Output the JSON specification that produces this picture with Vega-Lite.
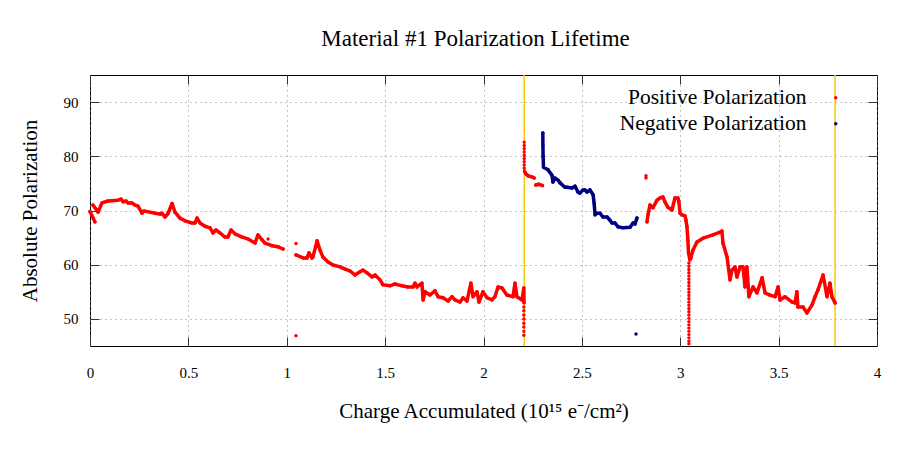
{
  "$schema": "https://vega.github.io/schema/vega-lite/v6.json",
  "width": 787,
  "height": 271,
  "autosize": {"type": "none"},
  "padding": {"left": 90, "top": 75, "right": 23, "bottom": 104},
  "background": "white",
  "title": {
    "text": "Material #1 Polarization Lifetime",
    "font": "Liberation Serif",
    "fontSize": 23,
    "fontWeight": "normal",
    "color": "black",
    "anchor": "middle",
    "baseline": "alphabetic",
    "dx": -8,
    "offset": 5
  },
  "config": {
    "view": {"stroke": "black", "strokeWidth": 1},
    "axis": {
      "labelFont": "Liberation Serif",
      "titleFont": "Liberation Serif",
      "labelColor": "black",
      "titleColor": "black",
      "titleFontWeight": "normal",
      "tickColor": "#333333",
      "gridColor": "#888888",
      "gridDash": [1, 4],
      "gridOpacity": 1,
      "domain": false
    }
  },
  "datasets": {
    "rules": [{"x": 2.207}, {"x": 3.787}],
    "pol": [
      {"x": 0.0, "y": 69.8, "series": "Positive Polarization", "seg": "r0"},
      {"x": 0.008, "y": 69.2, "series": "Positive Polarization", "seg": "r0"},
      {"x": 0.016, "y": 68.6, "series": "Positive Polarization", "seg": "r0"},
      {"x": 0.025, "y": 67.9, "series": "Positive Polarization", "seg": "r0"},
      {"x": 0.015, "y": 71.0, "series": "Positive Polarization", "seg": "r1"},
      {"x": 0.041, "y": 69.7, "series": "Positive Polarization", "seg": "r1"},
      {"x": 0.061, "y": 71.4, "series": "Positive Polarization", "seg": "r1"},
      {"x": 0.091, "y": 71.75, "series": "Positive Polarization", "seg": "r1"},
      {"x": 0.142, "y": 71.9, "series": "Positive Polarization", "seg": "r1"},
      {"x": 0.158, "y": 72.1, "series": "Positive Polarization", "seg": "r1"},
      {"x": 0.168, "y": 71.6, "series": "Positive Polarization", "seg": "r1"},
      {"x": 0.183, "y": 71.75, "series": "Positive Polarization", "seg": "r1"},
      {"x": 0.193, "y": 71.4, "series": "Positive Polarization", "seg": "r1"},
      {"x": 0.213, "y": 71.4, "series": "Positive Polarization", "seg": "r1"},
      {"x": 0.229, "y": 71.0, "series": "Positive Polarization", "seg": "r1"},
      {"x": 0.244, "y": 70.8, "series": "Positive Polarization", "seg": "r1"},
      {"x": 0.264, "y": 69.5, "series": "Positive Polarization", "seg": "r1"},
      {"x": 0.274, "y": 69.9, "series": "Positive Polarization", "seg": "r1"},
      {"x": 0.305, "y": 69.7, "series": "Positive Polarization", "seg": "r1"},
      {"x": 0.33, "y": 69.5, "series": "Positive Polarization", "seg": "r1"},
      {"x": 0.356, "y": 69.35, "series": "Positive Polarization", "seg": "r1"},
      {"x": 0.366, "y": 69.5, "series": "Positive Polarization", "seg": "r1"},
      {"x": 0.381, "y": 68.8, "series": "Positive Polarization", "seg": "r1"},
      {"x": 0.396, "y": 69.4, "series": "Positive Polarization", "seg": "r1"},
      {"x": 0.417, "y": 71.3, "series": "Positive Polarization", "seg": "r1"},
      {"x": 0.432, "y": 69.7, "series": "Positive Polarization", "seg": "r1"},
      {"x": 0.457, "y": 68.6, "series": "Positive Polarization", "seg": "r1"},
      {"x": 0.483, "y": 68.1, "series": "Positive Polarization", "seg": "r1"},
      {"x": 0.518, "y": 67.7, "series": "Positive Polarization", "seg": "r1"},
      {"x": 0.534, "y": 67.7, "series": "Positive Polarization", "seg": "r1"},
      {"x": 0.544, "y": 68.6, "series": "Positive Polarization", "seg": "r1"},
      {"x": 0.559, "y": 67.7, "series": "Positive Polarization", "seg": "r1"},
      {"x": 0.584, "y": 67.1, "series": "Positive Polarization", "seg": "r1"},
      {"x": 0.61, "y": 66.8, "series": "Positive Polarization", "seg": "r1"},
      {"x": 0.625, "y": 65.85, "series": "Positive Polarization", "seg": "r1"},
      {"x": 0.64, "y": 66.4, "series": "Positive Polarization", "seg": "r1"},
      {"x": 0.661, "y": 65.85, "series": "Positive Polarization", "seg": "r1"},
      {"x": 0.686, "y": 65.1, "series": "Positive Polarization", "seg": "r1"},
      {"x": 0.701, "y": 65.1, "series": "Positive Polarization", "seg": "r1"},
      {"x": 0.717, "y": 66.4, "series": "Positive Polarization", "seg": "r1"},
      {"x": 0.737, "y": 65.7, "series": "Positive Polarization", "seg": "r1"},
      {"x": 0.773, "y": 65.1, "series": "Positive Polarization", "seg": "r1"},
      {"x": 0.803, "y": 64.75, "series": "Positive Polarization", "seg": "r1"},
      {"x": 0.839, "y": 64.0, "series": "Positive Polarization", "seg": "r1"},
      {"x": 0.854, "y": 65.5, "series": "Positive Polarization", "seg": "r1"},
      {"x": 0.874, "y": 64.6, "series": "Positive Polarization", "seg": "r1"},
      {"x": 0.889, "y": 64.0, "series": "Positive Polarization", "seg": "r1"},
      {"x": 0.925, "y": 63.5, "series": "Positive Polarization", "seg": "r1"},
      {"x": 0.956, "y": 63.3, "series": "Positive Polarization", "seg": "r1"},
      {"x": 0.981, "y": 62.9, "series": "Positive Polarization", "seg": "r1"},
      {"x": 0.905, "y": 64.75, "series": "Positive Polarization", "seg": null},
      {"x": 1.047, "y": 63.9, "series": "Positive Polarization", "seg": null},
      {"x": 1.047, "y": 46.9, "series": "Positive Polarization", "seg": null},
      {"x": 1.047, "y": 61.8, "series": "Positive Polarization", "seg": "r2"},
      {"x": 1.083, "y": 61.25, "series": "Positive Polarization", "seg": "r2"},
      {"x": 1.103, "y": 61.25, "series": "Positive Polarization", "seg": "r2"},
      {"x": 1.113, "y": 62.2, "series": "Positive Polarization", "seg": "r2"},
      {"x": 1.128, "y": 61.25, "series": "Positive Polarization", "seg": "r2"},
      {"x": 1.133, "y": 61.4, "series": "Positive Polarization", "seg": "r2"},
      {"x": 1.154, "y": 64.4, "series": "Positive Polarization", "seg": "r2"},
      {"x": 1.169, "y": 62.7, "series": "Positive Polarization", "seg": "r2"},
      {"x": 1.184, "y": 61.4, "series": "Positive Polarization", "seg": "r2"},
      {"x": 1.21, "y": 60.5, "series": "Positive Polarization", "seg": "r2"},
      {"x": 1.235, "y": 59.95, "series": "Positive Polarization", "seg": "r2"},
      {"x": 1.271, "y": 59.6, "series": "Positive Polarization", "seg": "r2"},
      {"x": 1.296, "y": 59.2, "series": "Positive Polarization", "seg": "r2"},
      {"x": 1.321, "y": 58.85, "series": "Positive Polarization", "seg": "r2"},
      {"x": 1.347, "y": 58.1, "series": "Positive Polarization", "seg": "r2"},
      {"x": 1.372, "y": 58.7, "series": "Positive Polarization", "seg": "r2"},
      {"x": 1.388, "y": 59.0, "series": "Positive Polarization", "seg": "r2"},
      {"x": 1.408, "y": 58.5, "series": "Positive Polarization", "seg": "r2"},
      {"x": 1.433, "y": 57.75, "series": "Positive Polarization", "seg": "r2"},
      {"x": 1.449, "y": 58.1, "series": "Positive Polarization", "seg": "r2"},
      {"x": 1.474, "y": 57.2, "series": "Positive Polarization", "seg": "r2"},
      {"x": 1.489, "y": 56.3, "series": "Positive Polarization", "seg": "r2"},
      {"x": 1.525, "y": 56.1, "series": "Positive Polarization", "seg": "r2"},
      {"x": 1.55, "y": 56.45, "series": "Positive Polarization", "seg": "r2"},
      {"x": 1.586, "y": 56.1, "series": "Positive Polarization", "seg": "r2"},
      {"x": 1.616, "y": 55.9, "series": "Positive Polarization", "seg": "r2"},
      {"x": 1.642, "y": 55.9, "series": "Positive Polarization", "seg": "r2"},
      {"x": 1.652, "y": 56.6, "series": "Positive Polarization", "seg": "r2"},
      {"x": 1.662, "y": 55.9, "series": "Positive Polarization", "seg": "r2"},
      {"x": 1.687, "y": 56.6, "series": "Positive Polarization", "seg": "r2"},
      {"x": 1.693, "y": 53.5, "series": "Positive Polarization", "seg": "r2"},
      {"x": 1.703, "y": 55.0, "series": "Positive Polarization", "seg": "r2"},
      {"x": 1.728, "y": 54.4, "series": "Positive Polarization", "seg": "r2"},
      {"x": 1.753, "y": 55.2, "series": "Positive Polarization", "seg": "r2"},
      {"x": 1.769, "y": 54.1, "series": "Positive Polarization", "seg": "r2"},
      {"x": 1.794, "y": 53.9, "series": "Positive Polarization", "seg": "r2"},
      {"x": 1.82, "y": 53.3, "series": "Positive Polarization", "seg": "r2"},
      {"x": 1.84, "y": 54.1, "series": "Positive Polarization", "seg": "r2"},
      {"x": 1.855, "y": 53.5, "series": "Positive Polarization", "seg": "r2"},
      {"x": 1.881, "y": 53.1, "series": "Positive Polarization", "seg": "r2"},
      {"x": 1.896, "y": 53.9, "series": "Positive Polarization", "seg": "r2"},
      {"x": 1.916, "y": 53.3, "series": "Positive Polarization", "seg": "r2"},
      {"x": 1.936, "y": 56.6, "series": "Positive Polarization", "seg": "r2"},
      {"x": 1.947, "y": 54.1, "series": "Positive Polarization", "seg": "r2"},
      {"x": 1.967, "y": 55.0, "series": "Positive Polarization", "seg": "r2"},
      {"x": 1.977, "y": 53.1, "series": "Positive Polarization", "seg": "r2"},
      {"x": 1.997, "y": 55.0, "series": "Positive Polarization", "seg": "r2"},
      {"x": 2.018, "y": 53.9, "series": "Positive Polarization", "seg": "r2"},
      {"x": 2.043, "y": 53.5, "series": "Positive Polarization", "seg": "r2"},
      {"x": 2.058, "y": 54.1, "series": "Positive Polarization", "seg": "r2"},
      {"x": 2.074, "y": 55.9, "series": "Positive Polarization", "seg": "r2"},
      {"x": 2.094, "y": 55.7, "series": "Positive Polarization", "seg": "r2"},
      {"x": 2.119, "y": 54.4, "series": "Positive Polarization", "seg": "r2"},
      {"x": 2.15, "y": 54.1, "series": "Positive Polarization", "seg": "r2"},
      {"x": 2.16, "y": 56.6, "series": "Positive Polarization", "seg": "r2"},
      {"x": 2.17, "y": 54.1, "series": "Positive Polarization", "seg": "r2"},
      {"x": 2.196, "y": 53.5, "series": "Positive Polarization", "seg": "r2"},
      {"x": 2.205, "y": 55.7, "series": "Positive Polarization", "seg": "r2"},
      {"x": 2.206, "y": 53.0, "series": "Positive Polarization", "seg": "r2"},
      {"x": 2.205, "y": 52.2, "series": "Positive Polarization", "seg": null},
      {"x": 2.205, "y": 51.5, "series": "Positive Polarization", "seg": null},
      {"x": 2.205, "y": 50.7, "series": "Positive Polarization", "seg": null},
      {"x": 2.205, "y": 50.0, "series": "Positive Polarization", "seg": null},
      {"x": 2.205, "y": 49.2, "series": "Positive Polarization", "seg": null},
      {"x": 2.205, "y": 48.5, "series": "Positive Polarization", "seg": null},
      {"x": 2.205, "y": 47.7, "series": "Positive Polarization", "seg": null},
      {"x": 2.205, "y": 47.0, "series": "Positive Polarization", "seg": null},
      {"x": 2.207, "y": 82.6, "series": "Positive Polarization", "seg": null},
      {"x": 2.207, "y": 82.0, "series": "Positive Polarization", "seg": null},
      {"x": 2.207, "y": 81.4, "series": "Positive Polarization", "seg": null},
      {"x": 2.207, "y": 80.8, "series": "Positive Polarization", "seg": null},
      {"x": 2.207, "y": 80.2, "series": "Positive Polarization", "seg": null},
      {"x": 2.207, "y": 79.6, "series": "Positive Polarization", "seg": null},
      {"x": 2.207, "y": 79.0, "series": "Positive Polarization", "seg": null},
      {"x": 2.207, "y": 78.4, "series": "Positive Polarization", "seg": null},
      {"x": 2.207, "y": 77.8, "series": "Positive Polarization", "seg": null},
      {"x": 2.209, "y": 77.2, "series": "Positive Polarization", "seg": "r3"},
      {"x": 2.215, "y": 76.8, "series": "Positive Polarization", "seg": "r3"},
      {"x": 2.226, "y": 76.4, "series": "Positive Polarization", "seg": "r3"},
      {"x": 2.246, "y": 76.2, "series": "Positive Polarization", "seg": "r3"},
      {"x": 2.258, "y": 76.0, "series": "Positive Polarization", "seg": "r3"},
      {"x": 2.266, "y": 74.7, "series": "Positive Polarization", "seg": "r4"},
      {"x": 2.28, "y": 74.85, "series": "Positive Polarization", "seg": "r4"},
      {"x": 2.3, "y": 74.6, "series": "Positive Polarization", "seg": "r4"},
      {"x": 2.3015, "y": 84.3, "series": "Negative Polarization", "seg": "b1"},
      {"x": 2.302, "y": 82.0, "series": "Negative Polarization", "seg": "b1"},
      {"x": 2.303, "y": 80.0, "series": "Negative Polarization", "seg": "b1"},
      {"x": 2.305, "y": 78.0, "series": "Negative Polarization", "seg": "b1"},
      {"x": 2.328, "y": 77.5, "series": "Negative Polarization", "seg": "b1"},
      {"x": 2.348, "y": 76.5, "series": "Negative Polarization", "seg": "b1"},
      {"x": 2.353, "y": 75.25, "series": "Negative Polarization", "seg": "b1"},
      {"x": 2.363, "y": 76.0, "series": "Negative Polarization", "seg": "b1"},
      {"x": 2.379, "y": 75.6, "series": "Negative Polarization", "seg": "b1"},
      {"x": 2.389, "y": 75.1, "series": "Negative Polarization", "seg": "b1"},
      {"x": 2.414, "y": 74.3, "series": "Negative Polarization", "seg": "b1"},
      {"x": 2.424, "y": 74.3, "series": "Negative Polarization", "seg": "b1"},
      {"x": 2.45, "y": 74.15, "series": "Negative Polarization", "seg": "b1"},
      {"x": 2.465, "y": 74.5, "series": "Negative Polarization", "seg": "b1"},
      {"x": 2.48, "y": 73.4, "series": "Negative Polarization", "seg": "b1"},
      {"x": 2.49, "y": 73.2, "series": "Negative Polarization", "seg": "b1"},
      {"x": 2.506, "y": 73.8, "series": "Negative Polarization", "seg": "b1"},
      {"x": 2.516, "y": 73.8, "series": "Negative Polarization", "seg": "b1"},
      {"x": 2.526, "y": 73.4, "series": "Negative Polarization", "seg": "b1"},
      {"x": 2.541, "y": 73.8, "series": "Negative Polarization", "seg": "b1"},
      {"x": 2.557, "y": 72.9, "series": "Negative Polarization", "seg": "b1"},
      {"x": 2.562, "y": 71.4, "series": "Negative Polarization", "seg": "b1"},
      {"x": 2.567, "y": 69.2, "series": "Negative Polarization", "seg": "b1"},
      {"x": 2.577, "y": 69.5, "series": "Negative Polarization", "seg": "b1"},
      {"x": 2.592, "y": 69.5, "series": "Negative Polarization", "seg": "b1"},
      {"x": 2.607, "y": 68.8, "series": "Negative Polarization", "seg": "b1"},
      {"x": 2.628, "y": 68.8, "series": "Negative Polarization", "seg": "b1"},
      {"x": 2.643, "y": 68.2, "series": "Negative Polarization", "seg": "b1"},
      {"x": 2.653, "y": 67.7, "series": "Negative Polarization", "seg": "b1"},
      {"x": 2.668, "y": 67.7, "series": "Negative Polarization", "seg": "b1"},
      {"x": 2.684, "y": 67.0, "series": "Negative Polarization", "seg": "b1"},
      {"x": 2.709, "y": 66.8, "series": "Negative Polarization", "seg": "b1"},
      {"x": 2.745, "y": 66.9, "series": "Negative Polarization", "seg": "b1"},
      {"x": 2.76, "y": 67.7, "series": "Negative Polarization", "seg": "b1"},
      {"x": 2.77, "y": 67.5, "series": "Negative Polarization", "seg": "b1"},
      {"x": 2.78, "y": 68.6, "series": "Negative Polarization", "seg": "b1"},
      {"x": 2.775, "y": 47.2, "series": "Negative Polarization", "seg": null},
      {"x": 2.826, "y": 76.0, "series": "Positive Polarization", "seg": null},
      {"x": 2.826, "y": 76.4, "series": "Positive Polarization", "seg": null},
      {"x": 2.831, "y": 67.9, "series": "Positive Polarization", "seg": "r5"},
      {"x": 2.836, "y": 69.2, "series": "Positive Polarization", "seg": "r5"},
      {"x": 2.846, "y": 71.0, "series": "Positive Polarization", "seg": "r5"},
      {"x": 2.861, "y": 70.5, "series": "Positive Polarization", "seg": "r5"},
      {"x": 2.882, "y": 71.9, "series": "Positive Polarization", "seg": "r5"},
      {"x": 2.897, "y": 72.3, "series": "Positive Polarization", "seg": "r5"},
      {"x": 2.912, "y": 72.5, "series": "Positive Polarization", "seg": "r5"},
      {"x": 2.922, "y": 71.6, "series": "Positive Polarization", "seg": "r5"},
      {"x": 2.937, "y": 70.6, "series": "Positive Polarization", "seg": "r5"},
      {"x": 2.958, "y": 70.1, "series": "Positive Polarization", "seg": "r5"},
      {"x": 2.973, "y": 72.3, "series": "Positive Polarization", "seg": "r5"},
      {"x": 2.988, "y": 72.3, "series": "Positive Polarization", "seg": "r5"},
      {"x": 2.993, "y": 71.6, "series": "Positive Polarization", "seg": "r5"},
      {"x": 2.999, "y": 69.5, "series": "Positive Polarization", "seg": "r5"},
      {"x": 3.009, "y": 69.2, "series": "Positive Polarization", "seg": "r5"},
      {"x": 3.024, "y": 69.0, "series": "Positive Polarization", "seg": "r5"},
      {"x": 3.029, "y": 68.2, "series": "Positive Polarization", "seg": "r5"},
      {"x": 3.034, "y": 67.0, "series": "Positive Polarization", "seg": "r5"},
      {"x": 3.039, "y": 64.5, "series": "Positive Polarization", "seg": "r5"},
      {"x": 3.042, "y": 62.2, "series": "Positive Polarization", "seg": "r5"},
      {"x": 3.049, "y": 60.9, "series": "Positive Polarization", "seg": "r5"},
      {"x": 3.054, "y": 61.25, "series": "Positive Polarization", "seg": "r5"},
      {"x": 3.065, "y": 62.7, "series": "Positive Polarization", "seg": "r5"},
      {"x": 3.085, "y": 64.2, "series": "Positive Polarization", "seg": "r5"},
      {"x": 3.116, "y": 64.9, "series": "Positive Polarization", "seg": "r5"},
      {"x": 3.166, "y": 65.5, "series": "Positive Polarization", "seg": "r5"},
      {"x": 3.202, "y": 66.0, "series": "Positive Polarization", "seg": "r5"},
      {"x": 3.212, "y": 66.2, "series": "Positive Polarization", "seg": "r5"},
      {"x": 3.217, "y": 64.0, "series": "Positive Polarization", "seg": "r5"},
      {"x": 3.238, "y": 61.4, "series": "Positive Polarization", "seg": "r5"},
      {"x": 3.253, "y": 57.2, "series": "Positive Polarization", "seg": "r5"},
      {"x": 3.263, "y": 59.0, "series": "Positive Polarization", "seg": "r5"},
      {"x": 3.278, "y": 59.6, "series": "Positive Polarization", "seg": "r5"},
      {"x": 3.288, "y": 57.75, "series": "Positive Polarization", "seg": "r5"},
      {"x": 3.304, "y": 59.6, "series": "Positive Polarization", "seg": "r5"},
      {"x": 3.319, "y": 59.6, "series": "Positive Polarization", "seg": "r5"},
      {"x": 3.329, "y": 55.9, "series": "Positive Polarization", "seg": "r5"},
      {"x": 3.339, "y": 59.6, "series": "Positive Polarization", "seg": "r5"},
      {"x": 3.349, "y": 54.1, "series": "Positive Polarization", "seg": "r5"},
      {"x": 3.37, "y": 55.9, "series": "Positive Polarization", "seg": "r5"},
      {"x": 3.39, "y": 54.8, "series": "Positive Polarization", "seg": "r5"},
      {"x": 3.416, "y": 57.6, "series": "Positive Polarization", "seg": "r5"},
      {"x": 3.431, "y": 54.8, "series": "Positive Polarization", "seg": "r5"},
      {"x": 3.456, "y": 54.4, "series": "Positive Polarization", "seg": "r5"},
      {"x": 3.482, "y": 54.1, "series": "Positive Polarization", "seg": "r5"},
      {"x": 3.497, "y": 55.9, "series": "Positive Polarization", "seg": "r5"},
      {"x": 3.507, "y": 53.5, "series": "Positive Polarization", "seg": "r5"},
      {"x": 3.532, "y": 54.1, "series": "Positive Polarization", "seg": "r5"},
      {"x": 3.568, "y": 53.1, "series": "Positive Polarization", "seg": "r5"},
      {"x": 3.583, "y": 52.95, "series": "Positive Polarization", "seg": "r5"},
      {"x": 3.593, "y": 55.0, "series": "Positive Polarization", "seg": "r5"},
      {"x": 3.598, "y": 52.2, "series": "Positive Polarization", "seg": "r5"},
      {"x": 3.624, "y": 52.2, "series": "Positive Polarization", "seg": "r5"},
      {"x": 3.644, "y": 51.1, "series": "Positive Polarization", "seg": "r5"},
      {"x": 3.67, "y": 52.6, "series": "Positive Polarization", "seg": "r5"},
      {"x": 3.685, "y": 54.1, "series": "Positive Polarization", "seg": "r5"},
      {"x": 3.7, "y": 55.35, "series": "Positive Polarization", "seg": "r5"},
      {"x": 3.726, "y": 58.1, "series": "Positive Polarization", "seg": "r5"},
      {"x": 3.746, "y": 54.1, "series": "Positive Polarization", "seg": "r5"},
      {"x": 3.761, "y": 56.6, "series": "Positive Polarization", "seg": "r5"},
      {"x": 3.771, "y": 54.1, "series": "Positive Polarization", "seg": "r5"},
      {"x": 3.787, "y": 52.95, "series": "Positive Polarization", "seg": "r5"},
      {"x": 3.044, "y": 60.3, "series": "Positive Polarization", "seg": null},
      {"x": 3.044, "y": 59.7, "series": "Positive Polarization", "seg": null},
      {"x": 3.044, "y": 59.1, "series": "Positive Polarization", "seg": null},
      {"x": 3.044, "y": 58.5, "series": "Positive Polarization", "seg": null},
      {"x": 3.044, "y": 57.9, "series": "Positive Polarization", "seg": null},
      {"x": 3.044, "y": 57.3, "series": "Positive Polarization", "seg": null},
      {"x": 3.044, "y": 56.7, "series": "Positive Polarization", "seg": null},
      {"x": 3.044, "y": 56.1, "series": "Positive Polarization", "seg": null},
      {"x": 3.044, "y": 55.5, "series": "Positive Polarization", "seg": null},
      {"x": 3.044, "y": 54.9, "series": "Positive Polarization", "seg": null},
      {"x": 3.044, "y": 54.3, "series": "Positive Polarization", "seg": null},
      {"x": 3.044, "y": 53.7, "series": "Positive Polarization", "seg": null},
      {"x": 3.044, "y": 53.1, "series": "Positive Polarization", "seg": null},
      {"x": 3.044, "y": 52.5, "series": "Positive Polarization", "seg": null},
      {"x": 3.044, "y": 51.9, "series": "Positive Polarization", "seg": null},
      {"x": 3.044, "y": 51.3, "series": "Positive Polarization", "seg": null},
      {"x": 3.044, "y": 50.7, "series": "Positive Polarization", "seg": null},
      {"x": 3.044, "y": 50.1, "series": "Positive Polarization", "seg": null},
      {"x": 3.044, "y": 49.5, "series": "Positive Polarization", "seg": null},
      {"x": 3.044, "y": 48.9, "series": "Positive Polarization", "seg": null},
      {"x": 3.044, "y": 48.3, "series": "Positive Polarization", "seg": null},
      {"x": 3.044, "y": 47.7, "series": "Positive Polarization", "seg": null},
      {"x": 3.044, "y": 47.1, "series": "Positive Polarization", "seg": null},
      {"x": 3.044, "y": 46.5, "series": "Positive Polarization", "seg": null},
      {"x": 3.044, "y": 45.9, "series": "Positive Polarization", "seg": null},
      {"x": 3.044, "y": 45.4, "series": "Positive Polarization", "seg": null}
    ]
  },
  "layer": [
    {
      "data": {"name": "rules"},
      "mark": {"type": "rule", "color": "#ffc800", "strokeWidth": 1.5},
      "encoding": {
        "x": {
          "field": "x",
          "type": "quantitative",
          "scale": {"domain": [0, 4], "nice": false, "zero": false},
          "axis": {
            "orient": "bottom",
            "values": [0, 0.5, 1, 1.5, 2, 2.5, 3, 3.5, 4],
            "labelExpr": "format(datum.value, '~g')",
            "labelFlush": false,
            "labelOverlap": false,
            "labelFontSize": 15,
            "labelPadding": 28,
            "tickSize": -9,
            "grid": true,
            "title": "Charge Accumulated (10¹⁵ e⁻/cm²)",
            "titleFontSize": 21,
            "titleX": 393.5,
            "titleY": 65,
            "titleBaseline": "middle"
          }
        }
      }
    },
    {
      "data": {"name": "pol"},
      "transform": [{"filter": "isValid(datum.seg)"}],
      "mark": {"type": "line", "strokeWidth": 3.5, "strokeJoin": "round", "strokeCap": "round"},
      "encoding": {
        "x": {"field": "x", "type": "quantitative", "scale": {"domain": [0, 4], "nice": false, "zero": false}, "axis": null},
        "y": {
          "field": "y",
          "type": "quantitative",
          "scale": {"domain": [45, 95], "nice": false, "zero": false},
          "axis": {
            "orient": "left",
            "values": [50, 60, 70, 80, 90],
            "labelFontSize": 15,
            "labelPadding": 21,
            "tickSize": -9,
            "grid": true,
            "title": "Absolute Polarization",
            "titleFontSize": 21,
            "titleX": -60,
            "titleY": 135.5,
            "titleAlign": "center",
            "titleBaseline": "middle"
          }
        },
        "detail": {"field": "seg", "type": "nominal"},
        "color": {
          "field": "series",
          "type": "nominal",
          "scale": {"domain": ["Positive Polarization", "Negative Polarization"], "range": ["#ff0000", "#000080"]},
          "legend": {
            "orient": "none",
            "legendX": 735,
            "legendY": 12,
            "title": null,
            "labelAlign": "right",
            "labelOffset": -40,
            "labelFontSize": 21.5,
            "labelFont": "Liberation Serif",
            "labelColor": "black",
            "labelLimit": 400,
            "symbolType": "circle",
            "symbolSize": 12,
            "symbolStrokeWidth": 0,
            "rowPadding": 3
          }
        }
      }
    },
    {
      "data": {"name": "pol"},
      "mark": {"type": "point", "filled": true, "size": 12, "opacity": 1},
      "encoding": {
        "x": {"field": "x", "type": "quantitative", "axis": null},
        "y": {"field": "y", "type": "quantitative", "axis": null},
        "color": {"field": "series", "type": "nominal"}
      }
    },
    {
      "data": {"name": "rules"},
      "mark": {"type": "rule", "opacity": 0},
      "encoding": {
        "x": {
          "field": "x",
          "type": "quantitative",
          "axis": {"orient": "top", "values": [0, 0.5, 1, 1.5, 2, 2.5, 3, 3.5, 4], "labels": false, "grid": false, "tickSize": -9, "title": null}
        },
        "y": {
          "datum": 70,
          "type": "quantitative",
          "axis": {"orient": "right", "values": [50, 60, 70, 80, 90], "labels": false, "grid": false, "tickSize": -9, "title": null}
        }
      }
    }
  ],
  "resolve": {"axis": {"x": "independent", "y": "independent"}}
}
